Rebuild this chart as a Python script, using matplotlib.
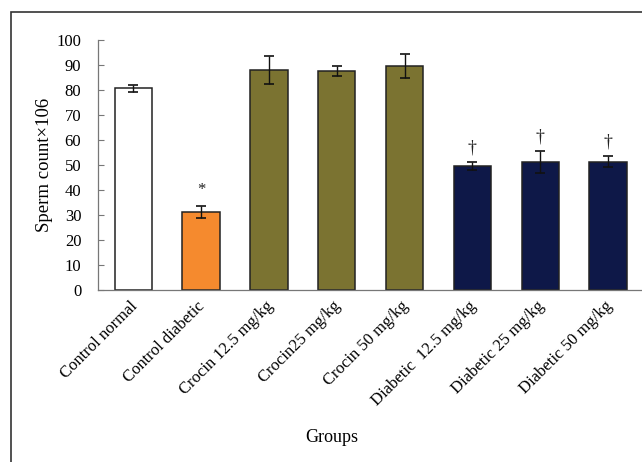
import matplotlib.pyplot as plt
from matplotlib.patches import Rectangle
from matplotlib.transforms import ScaledTranslation

plt.rcParams['font.family'] = ['Liberation Serif', 'DejaVu Serif']

groups = ['Control normal', 'Control diabetic', 'Crocin 12.5 mg/kg', 'Crocin25 mg/kg',
          'Crocin 50 mg/kg', 'Diabetic  12.5 mg/kg', 'Diabetic 25 mg/kg', 'Diabetic 50 mg/kg']
means = [80.7, 31.2, 88.0, 87.5, 89.6, 49.6, 51.3, 51.3]
errors = [1.3, 2.3, 5.6, 2.0, 4.8, 1.6, 4.4, 2.2]
marks = ['', '*', '', '', '', '†', '†', '†']
colors = ['#ffffff', '#f58a2e', '#7b7331', '#7b7331', '#7b7331',
          '#0e1848', '#0e1848', '#0e1848']

fig = plt.figure(figsize=(6.42, 4.62), dpi=100)
ax = fig.add_axes([98 / 642, 1 - 290 / 462, 1 - 98 / 642, 250 / 462])

# outer frame around the figure panel
fig.patches.append(Rectangle((11 / 642, -0.1), 1.2, 1 - 12 / 462 + 0.1,
                             transform=fig.transFigure, fill=False,
                             edgecolor='#333333', linewidth=1.2))

x = range(len(groups))
ax.bar(x, means, width=0.55, color=colors, edgecolor='#222222', linewidth=1.1, zorder=2)
ax.errorbar(x, means, yerr=errors, fmt='none', ecolor='#111111', elinewidth=1.0,
            capsize=3.5, capthick=1.2, zorder=3)

for xi, m, e, s in zip(x, means, errors, marks):
    if s == '*':
        ax.annotate(s, (xi, m + e), xytext=(0, 6), textcoords='offset points',
                    ha='center', va='bottom', fontsize=12, color='#222222')
    elif s:
        ax.annotate(s, (xi, m + e), xytext=(0, 4), textcoords='offset points',
                    ha='center', va='bottom', fontsize=13, color='#222222')

ax.set_xlim(-0.52, 7.5)
ax.set_ylim(0, 100)
ax.set_yticks(range(0, 101, 10))
ax.tick_params(axis='y', direction='in', length=4.5, width=0.8, color='#777777',
               labelsize=12, pad=12)
ax.tick_params(axis='x', length=0, labelsize=12, pad=6)
ax.set_xticks(list(x))
ax.set_xticklabels(groups, rotation=45, ha='right', rotation_mode='anchor')
shift = ScaledTranslation(-4 / 100, 0, fig.dpi_scale_trans)
for lbl in ax.get_xticklabels():
    lbl.set_transform(lbl.get_transform() + shift)

for side in ['top', 'right']:
    ax.spines[side].set_visible(False)
for side in ['left', 'bottom']:
    ax.spines[side].set_color('#777777')
    ax.spines[side].set_linewidth(0.9)

ax.set_ylabel('Sperm count×106', fontsize=13.5)
ax.yaxis.set_label_coords(-0.083, 0.5)
fig.text(332 / 642, 1 - 437 / 462, 'Groups', ha='center', va='center', fontsize=13)

fig.savefig('out.png', dpi=100)
